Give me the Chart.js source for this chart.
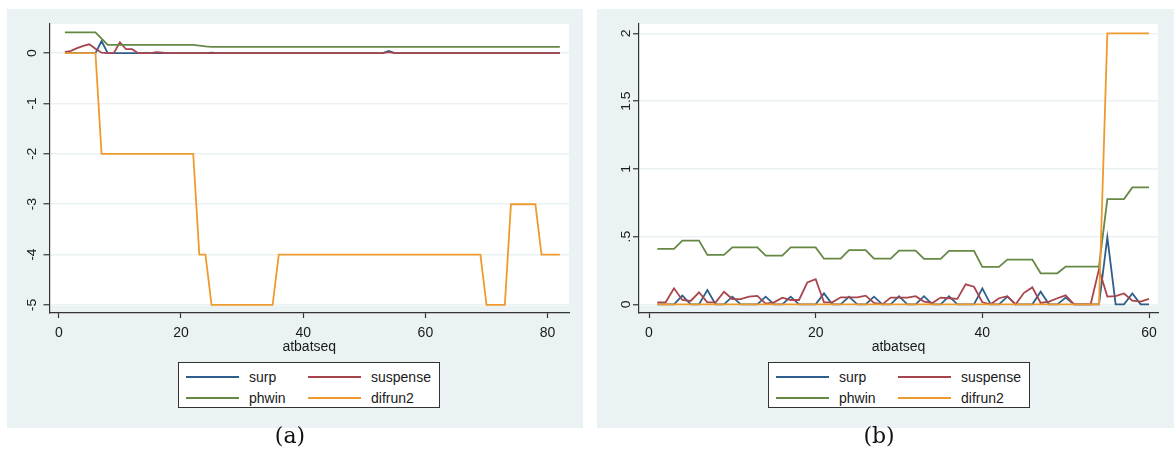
<!DOCTYPE html>
<html>
<head>
<meta charset="utf-8">
<script src="https://cdn.jsdelivr.net/npm/chart.js@4.4.0/dist/chart.umd.min.js"></script>
<style>
  body { margin: 0; width: 1174px; height: 452px; background: #fff; position: relative; overflow: hidden; font-family: "Liberation Sans", Arial, sans-serif; }
  canvas { position: absolute; }
  .legend { position: absolute; background: #fff; border: 1px solid #333; box-sizing: border-box; width: 262px; height: 46px; }
  .legend .item { position: absolute; height: 16px; font-size: 14px; line-height: 16px; color: #1a1a1a; }
  .legend .swatch { position: absolute; width: 53px; height: 2px; top: 7px; left: 0; }
  .legend .txt { position: absolute; left: 63px; top: 0; white-space: nowrap; }
  .caption { position: absolute; font-family: "DejaVu Serif", "Liberation Serif", serif; font-size: 22px; color: #111; transform: translateX(-50%); }
</style>
</head>
<body>
<canvas id="chartA" width="576" height="419" style="left:7px;top:9px"></canvas>
<canvas id="chartB" width="577" height="419" style="left:597px;top:9px"></canvas>
<div class="legend" id="legendA" style="left:178px;top:362px"></div>
<div class="legend" id="legendB" style="left:768px;top:362px"></div>
<div class="caption" style="left:290px;top:423px">(a)</div>
<div class="caption" style="left:879px;top:423px">(b)</div>
<script>
const seriesNames = ["surp", "suspense", "phwin", "difrun2"];
const seriesColors = ["#2e5f8c", "#a8454c", "#658845", "#ee9a2e"];

// panel (a)
const atbatA = [1,2,3,4,5,6,7,8,9,10,11,12,13,14,15,16,17,18,19,20,21,22,23,24,25,26,27,28,29,30,
  31,32,33,34,35,36,37,38,39,40,41,42,43,44,45,46,47,48,49,50,51,52,53,54,55,56,57,58,59,60,
  61,62,63,64,65,66,67,68,69,70,71,72,73,74,75,76,77,78,79,80,81,82];
const surpA = [0,0,0,0,0,0,0.24,0,0,0, 0,0,0,0,0,0,0,0,0,0, 0,0,0,0,0.01,0,0,0,0,0,
  0,0,0,0,0,0,0,0,0,0, 0,0,0,0,0,0,0,0,0,0, 0,0,0,0.045,0,0,0,0,0,0,
  0,0,0,0,0,0,0,0,0,0, 0,0,0,0,0,0,0,0,0,0, 0,0];
const suspenseA = [0.02,0.045,0.1,0.145,0.177,0.09,0.01,0,0,0.217, 0.079,0.079,0,0,0,0.02,0.012,0,0,0, 0,0,0,0,0,0,0,0,0,0,
  0,0,0,0,0,0,0,0,0,0, 0,0,0,0,0,0,0,0,0,0, 0,0,0,0.02,0,0,0,0,0,0,
  0,0,0,0,0,0,0,0,0,0, 0,0,0,0,0,0,0,0,0,0, 0,0];
const phwinA = [0.415,0.415,0.415,0.415,0.415,0.415,0.29,0.164,0.164,0.164,
  0.164,0.164,0.164,0.164,0.164,0.164,0.164,0.164,0.164,0.164,
  0.164,0.164,0.15,0.135,0.125,0.125,0.125,0.125,0.125,0.125,
  0.125,0.125,0.125,0.125,0.125,0.125,0.125,0.125,0.125,0.125,
  0.125,0.125,0.125,0.125,0.125,0.125,0.125,0.125,0.125,0.125,
  0.125,0.125,0.125,0.125,0.125,0.125,0.125,0.125,0.125,0.125,
  0.125,0.125,0.125,0.125,0.125,0.125,0.125,0.125,0.125,0.125,
  0.125,0.125,0.125,0.125,0.125,0.125,0.125,0.125,0.125,0.125, 0.125,0.125];
const difrunA = [0,0,0,0,0,0,-2,-2,-2,-2, -2,-2,-2,-2,-2,-2,-2,-2,-2,-2,
  -2,-2,-4,-4,-5,-5,-5,-5,-5,-5, -5,-5,-5,-5,-5,-4,-4,-4,-4,-4,
  -4,-4,-4,-4,-4,-4,-4,-4,-4,-4, -4,-4,-4,-4,-4,-4,-4,-4,-4,-4,
  -4,-4,-4,-4,-4,-4,-4,-4,-4,-5, -5,-5,-5,-3,-3,-3,-3,-3,-4,-4, -4,-4];
const xTicksA = [0, 20, 40, 60, 80];
const yTicksA = [-5, -4, -3, -2, -1, 0];
const yLabelsA = ["-5", "-4", "-3", "-2", "-1", "0"];

// panel (b)
const atbatB = [1,2,3,4,5,6,7,8,9,10,11,12,13,14,15,16,17,18,19,20,21,22,23,24,25,26,27,28,29,30,
  31,32,33,34,35,36,37,38,39,40,41,42,43,44,45,46,47,48,49,50,51,52,53,54,55,56,57,58,59,60];
const surpB = [0,0,0,0.064,0,0,0.106,0,0,0.057, 0,0,0,0.057,0,0,0.057,0,0,0,
  0.081,0,0,0.057,0,0,0.057,0,0,0.06, 0,0,0.06,0,0,0.06,0,0,0,0.118,
  0,0,0.057,0,0,0,0.093,0,0,0.05, 0,0,0,0,0.494,0,0,0.08,0,0];
const suspenseB = [0.015,0.015,0.118,0.032,0.025,0.089,0.015,0.015,0.093,0.039,
  0.039,0.057,0.062,0.005,0.015,0.049,0.032,0.032,0.162,0.185,
  0.015,0.015,0.052,0.052,0.052,0.064,0.01,0,0.05,0.05,
  0.05,0.06,0.02,0.01,0.05,0.045,0.04,0.148,0.13,0.015,
  0,0.045,0.06,0,0.085,0.125,0.01,0.02,0.045,0.066,
  0,0,0,0.26,0.057,0.06,0.08,0.027,0.02,0.04];
const phwinB = [0.41,0.41,0.41,0.47,0.47,0.47,0.365,0.365,0.365,0.42,
  0.42,0.42,0.42,0.36,0.36,0.36,0.42,0.42,0.42,0.42,
  0.337,0.337,0.337,0.40,0.40,0.40,0.337,0.337,0.337,0.397,
  0.397,0.397,0.335,0.335,0.335,0.394,0.394,0.394,0.394,0.276,
  0.276,0.276,0.33,0.33,0.33,0.33,0.229,0.229,0.229,0.278,
  0.278,0.278,0.278,0.278,0.777,0.777,0.777,0.863,0.863,0.863];
const difrunB = [0,0,0,0,0,0,0,0,0,0, 0,0,0,0,0,0,0,0,0,0, 0,0,0,0,0,0,0,0,0,0,
  0,0,0,0,0,0,0,0,0,0, 0,0,0,0,0,0,0,0,0,0, 0,0,0,0,2,2,2,2,2,2];
const xTicksB = [0, 20, 40, 60];
const yTicksB = [0, 0.5, 1, 1.5, 2];
const yLabelsB = ["0", ".5", "1", "1.5", "2"];

const bgColor = "#eaf2f3";
const axisColor = "#333";
const fontFam = "'Liberation Sans', Arial, sans-serif";

// fills the outer panel and the white plot region (stops a bit above the x axis)
const panelBg = {
  id: "panelBg",
  beforeDraw(chart) {
    const ctx = chart.ctx, a = chart.chartArea;
    ctx.save();
    ctx.fillStyle = bgColor;
    ctx.fillRect(0, 0, chart.width, chart.height);
    ctx.fillStyle = "#fff";
    ctx.fillRect(a.left, a.top, a.right - a.left, a.bottom - a.top - 7);
    ctx.restore();
  }
};

// stata style rotated y labels
const yLabelsPlugin = {
  id: "yLabels",
  afterDraw(chart, args, opts) {
    const ctx = chart.ctx, y = chart.scales.y;
    ctx.save();
    ctx.fillStyle = "#1a1a1a";
    ctx.font = "14px " + fontFam;
    ctx.textAlign = "center";
    ctx.textBaseline = "alphabetic";
    opts.ticks.forEach((v, i) => {
      ctx.save();
      ctx.translate(chart.chartArea.left - opts.gap, y.getPixelForValue(v));
      ctx.scale(0.85, 1);
      ctx.rotate(-Math.PI / 2);
      ctx.fillText(opts.labels[i], 0, 0);
      ctx.restore();
    });
    ctx.restore();
  }
};

function buildPanel(id, xs, ys, p) {
  const datasets = ys.map((arr, k) => ({
    label: seriesNames[k],
    data: arr.map((v, i) => ({ x: xs[i], y: v })),
    borderColor: seriesColors[k],
    borderWidth: 1.8,
    pointRadius: 0,
    tension: 0,
    fill: false,
    order: 3 - k
  }));
  return new Chart(document.getElementById(id), {
    type: "line",
    data: { datasets: datasets },
    plugins: [panelBg, yLabelsPlugin],
    options: {
      responsive: false,
      animation: false,
      layout: { padding: { top: 15, right: p.padRight, left: 0, bottom: 0 } },
      plugins: {
        legend: { display: false },
        tooltip: { enabled: false },
        yLabels: { ticks: p.yTicks, labels: p.yLabels, gap: p.labelGap }
      },
      scales: {
        x: {
          type: "linear",
          min: p.xMin, max: p.xMax,
          afterBuildTicks: s => { s.ticks = p.xTicks.map(v => ({ value: v })); },
          afterFit: s => { s.height = 115; s.paddingLeft = 0; s.paddingRight = 0; },
          grid: { drawOnChartArea: false, drawTicks: true, tickLength: 5, tickColor: axisColor, tickWidth: 1.2 },
          border: { display: true, color: axisColor, width: 1.2 },
          ticks: { padding: 7, color: "#1a1a1a", font: { family: fontFam, size: 14 }, maxRotation: 0 },
          title: { display: true, text: "atbatseq", color: "#1a1a1a", font: { family: fontFam, size: 14 }, padding: { top: 0, bottom: 72 } }
        },
        y: {
          type: "linear",
          min: p.yMin, max: p.yMax,
          afterBuildTicks: s => { s.ticks = p.yTicks.map(v => ({ value: v })); },
          afterFit: s => { s.width = p.axisLeft; s.paddingTop = 0; s.paddingBottom = 0; },
          grid: { color: bgColor, lineWidth: 1.5, drawTicks: true, tickLength: 6, tickColor: axisColor, tickWidth: 1.2 },
          border: { display: true, color: axisColor, width: 1.2 },
          ticks: { display: false }
        }
      }
    }
  });
}

function buildLegend(id) {
  const box = document.getElementById(id);
  const spots = [[7, 6], [129, 6], [7, 27], [129, 27]];
  seriesNames.forEach((name, k) => {
    const it = document.createElement("div");
    it.className = "item";
    it.style.left = spots[k][0] + "px";
    it.style.top = spots[k][1] + "px";
    it.innerHTML = '<div class="swatch" style="background:' + seriesColors[k] + '"></div><div class="txt">' + name + '</div>';
    box.appendChild(it);
  });
}

buildPanel("chartA", atbatA, [surpA, suspenseA, phwinA, difrunA], {
  xMin: -1.52, xMax: 83.5, yMin: -5.16, yMax: 0.58,
  xTicks: xTicksA, yTicks: yTicksA, yLabels: yLabelsA,
  axisLeft: 42.5, padRight: 14, labelGap: 14
});
buildPanel("chartB", atbatB, [surpB, suspenseB, phwinB, difrunB], {
  xMin: -1.2, xMax: 61.08, yMin: -0.064, yMax: 2.069,
  xTicks: xTicksB, yTicks: yTicksB, yLabels: yLabelsB,
  axisLeft: 42, padRight: 16, labelGap: 9
});
buildLegend("legendA");
buildLegend("legendB");
</script>
</body>
</html>
